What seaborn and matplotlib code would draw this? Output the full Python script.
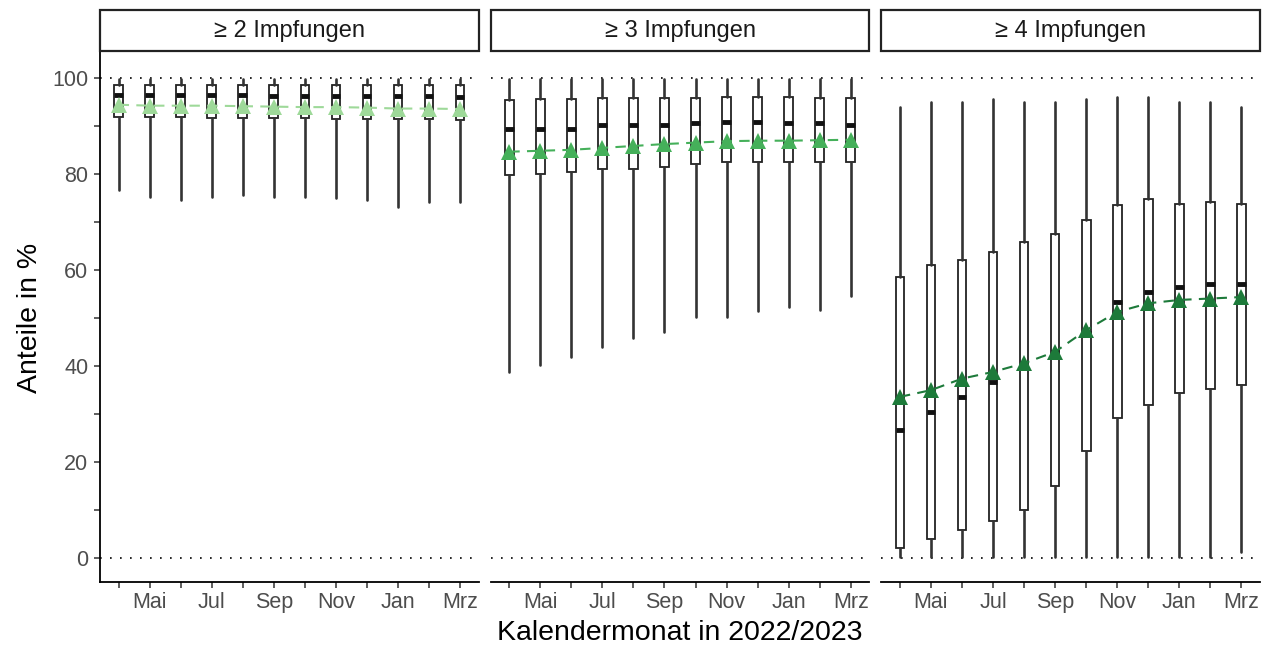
import matplotlib
matplotlib.use("Agg")
import matplotlib.pyplot as plt
from matplotlib.patches import Rectangle
from matplotlib.ticker import MultipleLocator
import numpy as np
import pandas as pd
import seaborn as sns

# ---------------- data ----------------
months = ["Apr", "Mai", "Jun", "Jul", "Aug", "Sep", "Okt", "Nov", "Dez", "Jan", "Feb", "Mrz"]
month_labels = ["", "Mai", "", "Jul", "", "Sep", "", "Nov", "", "Jan", "", "Mrz"]
groups = ["\u2265 2 Impfungen", "\u2265 3 Impfungen", "\u2265 4 Impfungen"]

g2_whislo = [76.7, 75.3, 74.6, 75.3, 75.6, 75.3, 75.3, 75.0, 74.6, 73.2, 74.2, 74.2]
g2_q1 = [92.0, 91.9, 91.9, 91.8, 91.8, 91.7, 91.7, 91.6, 91.6, 91.5, 91.5, 91.4]
g2_med = [96.6, 96.6, 96.5, 96.5, 96.5, 96.4, 96.4, 96.4, 96.3, 96.3, 96.3, 96.2]
g2_q3 = [98.6, 98.6, 98.6, 98.6, 98.6, 98.6, 98.6, 98.6, 98.6, 98.6, 98.6, 98.6]
g2_whishi = [99.8, 99.8, 99.8, 99.8, 99.8, 99.8, 99.8, 99.8, 99.8, 99.8, 99.8, 99.8]
g2_mean = [94.5, 94.3, 94.3, 94.3, 94.2, 94.1, 94.0, 94.0, 93.9, 93.7, 93.7, 93.6]

g3_whislo = [38.8, 40.2, 41.9, 44.0, 45.8, 47.2, 50.3, 50.3, 51.5, 52.4, 51.7, 54.6]
g3_q1 = [79.8, 80.1, 80.5, 81.2, 81.2, 81.5, 82.2, 82.6, 82.6, 82.6, 82.6, 82.6]
g3_med = [89.5, 89.5, 89.5, 90.2, 90.2, 90.2, 90.6, 90.9, 90.9, 90.6, 90.6, 90.2]
g3_q3 = [95.5, 95.6, 95.7, 95.8, 95.9, 96.0, 96.0, 96.1, 96.1, 96.1, 96.0, 96.0]
g3_whishi = [99.8, 99.8, 99.8, 99.8, 99.8, 99.8, 99.8, 99.8, 99.8, 99.8, 99.8, 99.8]
g3_mean = [84.7, 84.9, 85.1, 85.5, 85.9, 86.3, 86.6, 86.9, 87.0, 87.0, 87.1, 87.2]

g4_whislo = [0.3, 0.3, 0.3, 0.3, 0.3, 0.3, 0.3, 0.3, 0.3, 0.3, 0.3, 1.3]
g4_q1 = [2.0, 3.9, 5.8, 7.8, 10.1, 15.0, 22.3, 29.1, 31.9, 34.3, 35.3, 36.0]
g4_med = [26.7, 30.5, 33.6, 36.7, 39.9, 43.0, 47.0, 53.4, 55.5, 56.4, 57.2, 57.2]
g4_q3 = [58.6, 61.0, 62.2, 63.8, 65.9, 67.6, 70.4, 73.5, 74.9, 73.9, 74.2, 73.9]
g4_whishi = [94.0, 95.1, 95.1, 95.6, 95.1, 95.1, 95.6, 96.1, 96.1, 95.1, 95.1, 94.0]
g4_mean = [33.6, 35.0, 37.4, 38.8, 40.6, 43.0, 47.5, 51.3, 53.1, 53.8, 54.1, 54.4]

colors = ["#9ed999", "#45b05a", "#1d7a3a"]

panels = [
    (g2_whislo, g2_q1, g2_med, g2_q3, g2_whishi, g2_mean),
    (g3_whislo, g3_q1, g3_med, g3_q3, g3_whishi, g3_mean),
    (g4_whislo, g4_q1, g4_med, g4_q3, g4_whishi, g4_mean),
]

# ---------------- style ----------------
sns.set_theme(style="ticks")
plt.rcParams["font.family"] = ["Liberation Sans", "DejaVu Sans"]

W, H = 1275, 651
fig, axes = plt.subplots(1, 3, figsize=(W / 100, H / 100), dpi=100, sharey=True)
fig.subplots_adjust(left=100 / W, right=1260 / W, bottom=1 - 582 / H, top=1 - 51 / H,
                    wspace=12 / 378.6)

tick_col = "#4d4d4d"
pos = np.arange(len(months))

for i, (ax, grp, data, col) in enumerate(zip(axes, groups, panels, colors)):
    whislo, q1, med, q3, whishi, mean = data
    stats = [dict(whislo=a, q1=b, med=c, q3=d, whishi=e, fliers=[])
             for a, b, c, d, e in zip(whislo, q1, med, q3, whishi)]
    ax.bxp(stats, positions=pos, widths=0.28, showcaps=False, showfliers=False,
           patch_artist=True, manage_ticks=False,
           boxprops=dict(facecolor="white", edgecolor="#222222", linewidth=1.3),
           whiskerprops=dict(color="#333333", linewidth=1.9),
           medianprops=dict(color="#111111", linewidth=3.5, solid_capstyle="butt"),
           zorder=2)
    ax.axhline(0, color="black", lw=1.2, ls=(0, (1, 5)), zorder=1)
    ax.axhline(100, color="black", lw=1.2, ls=(0, (1, 5)), zorder=1)

    df = pd.DataFrame({"pos": pos, "mean": mean})
    sns.lineplot(data=df, x="pos", y="mean", ax=ax, color=col, marker="^",
                 markersize=11, markeredgewidth=0, linewidth=1.5,
                 linestyle=(0, (5, 3.5)), zorder=4)

    ax.set_xlim(-0.6, 11.6)
    ax.set_ylim(-5, 105.7)
    ax.set_xticks(pos)
    ax.set_xticklabels(month_labels)
    ax.set_xlabel("")
    ax.set_ylabel("")
    ax.tick_params(axis="x", length=4.5, width=1.1, color="#333333",
                   labelsize=15.5, labelcolor=tick_col, pad=3)
    for s in ["top", "right"]:
        ax.spines[s].set_visible(False)
    ax.spines["bottom"].set_linewidth(1.3)
    ax.spines["bottom"].set_color("black")
    if i == 0:
        ax.yaxis.set_major_locator(MultipleLocator(20))
        ax.yaxis.set_minor_locator(MultipleLocator(10))
        ax.tick_params(axis="y", which="both", length=4.5, width=1.1, color="#333333",
                       labelsize=15.5, labelcolor=tick_col, pad=4)
        ax.spines["left"].set_linewidth(1.3)
        ax.spines["left"].set_color("black")
    else:
        ax.spines["left"].set_visible(False)
        ax.tick_params(axis="y", which="both", length=0, labelleft=False)

    # strip header
    hstrip = 41 / 531
    rect = Rectangle((0, 1), 1, hstrip, transform=ax.transAxes, facecolor="white",
                     edgecolor="#222222", linewidth=1.6, clip_on=False, zorder=5)
    ax.add_patch(rect)
    ax.text(0.5, 1 + hstrip / 2, grp, transform=ax.transAxes, ha="center", va="center",
            fontsize=17, color="#1a1a1a", zorder=6)

fig.text(30 / W, 1 - 318 / H, "Anteile in %", rotation=90, ha="center", va="center",
         fontsize=20.5, color="black")
fig.text(680 / W, 1 - 633 / H, "Kalendermonat in 2022/2023", ha="center", va="center",
         fontsize=20.5, color="black")

fig.savefig("out.png", dpi=100)
